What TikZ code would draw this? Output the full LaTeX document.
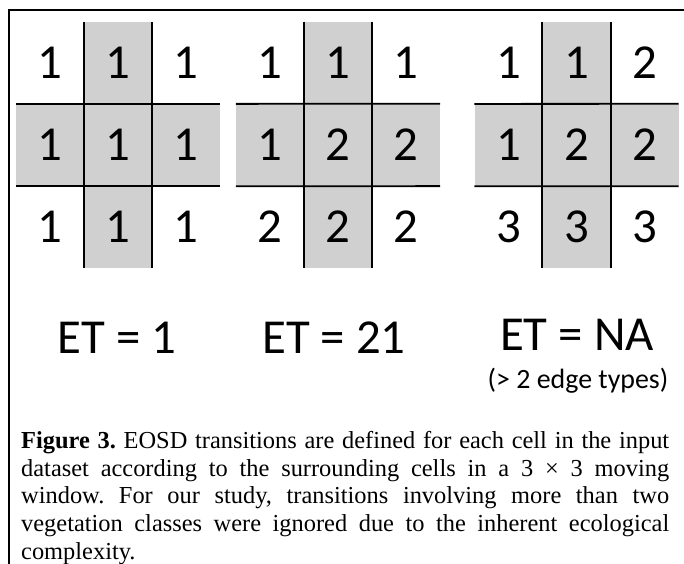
\documentclass[tikz,border=0pt]{standalone}
\usepackage{fontspec}
\setmainfont{Liberation Serif}
\newfontfamily\cellfont{Carlito}
\usetikzlibrary{matrix}
\definecolor{cellgray}{RGB}{208,208,208}
\tikzset{
	cell/.style = {minimum width=68bp, minimum height=82bp, inner sep=0pt,
		font=\cellfont\fontsize{49}{49}\selectfont},
	shade/.style = {fill=cellgray},
	grid/.style = {matrix of nodes, inner sep=0pt, column sep=0pt, row sep=0pt,
		nodes={cell}},
	gridline/.style = {line width=1.8bp, black},
	frame/.style = {line width=2.6bp, black},
	etlabel/.style = {anchor=base, inner sep=0pt,
		font=\cellfont\fontsize{49}{49}\selectfont},
	etnote/.style = {anchor=base, inner sep=0pt,
		font=\cellfont\fontsize{28}{28}\selectfont},
	caption/.style = {anchor=north west, inner sep=0pt, text width=648bp,
		align=justify, font=\fontsize{24.5}{27.8}\selectfont\frenchspacing}
}

\begin{document}
\begin{tikzpicture}[x=1bp,y=-1bp]
\useasboundingbox (0,0) rectangle (684,564);
\draw[frame] (9,564) -- (9,10) -- (684,10);

\matrix (g1) [grid] at (118,145) {
	1 & |[shade]| 1 & 1 \\
	|[shade]| 1 & |[shade]| 1 & |[shade]| 1 \\
	1 & |[shade]| 1 & 1 \\
};
\matrix (g2) [grid] at (338,145) {
	1 & |[shade]| 1 & 1 \\
	|[shade]| 1 & |[shade]| 2 & |[shade]| 2 \\
	2 & |[shade]| 2 & 2 \\
};
\matrix (g3) [grid] at (576.5,145) {
	1 & |[shade]| 1 & 2 \\
	|[shade]| 1 & |[shade]| 2 & |[shade]| 2 \\
	3 & |[shade]| 3 & 3 \\
};
\foreach \g in {g1,g2,g3} {
	\draw[gridline] (\g-1-2.north west) -- (\g-3-2.south west);
	\draw[gridline] (\g-1-2.north east) -- (\g-3-2.south east);
	\draw[gridline] (\g-2-1.north west) -- (\g-2-3.north east);
	\draw[gridline] (\g-2-1.south west) -- (\g-2-3.south east);
}

\node[etlabel] (et1) at (117,353) {ET = 1};
\node[etlabel] (et2) at (334,353) {ET = 21};
\node[etlabel] (et3) at (577,350) {ET = NA};
\node[etnote] (note3) at (578,388) {(> 2 edge types)};

\node[caption] (capt) at (21,431) {\textbf{Figure 3.} EOSD transitions are defined for each cell in the input\linebreak
dataset according to the surrounding cells in a 3 × 3 moving\linebreak
window. For our study, transitions involving more than two\linebreak
vegetation classes were ignored due to the inherent ecological\linebreak
complexity.};
\end{tikzpicture}
\end{document}
